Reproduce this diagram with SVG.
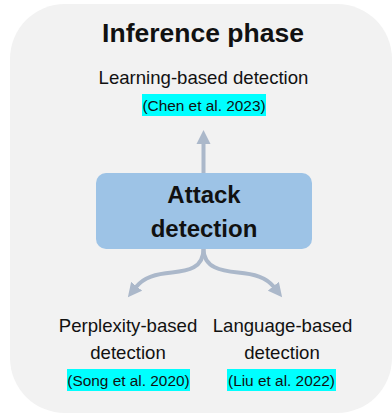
<svg xmlns="http://www.w3.org/2000/svg" width="392" height="414" viewBox="0 0 392 414">
<defs>
<style>
.t{font-family:"Liberation Sans",Arial,sans-serif;fill:#111;text-anchor:middle}
.b{font-weight:bold}
.lbl{font-size:18.6px}
.cit{font-size:15.4px}
.hl{fill:#00ffff}
.conn{fill:none;stroke:#abb8ca;stroke-width:4}
</style>
<marker id="ah" markerUnits="userSpaceOnUse" markerWidth="15" markerHeight="15" refX="1" refY="7" orient="auto" viewBox="0 0 15 14">
<path d="M0,0 L14,7 L0,14 z" fill="#abb8ca"/>
</marker>
</defs>
<g id="panel">
<rect x="10" y="4" width="382" height="409" rx="55" ry="55" fill="#f2f2f2"/>
<text class="t b" x="203" y="42" font-size="26.5">Inference phase</text>
</g>
<g id="connectors">
<path class="conn" d="M203.5,173 L203.5,143" marker-end="url(#ah)"/>
<path class="conn" d="M203.5,249 C203.5,268 188,271 172,272.5 C156,274 144,277 136,287" marker-end="url(#ah)"/>
<path class="conn" d="M203.5,249 C203.5,268 222,271 238,272.5 C254,274 266,277 274,287" marker-end="url(#ah)"/>
</g>
<g id="attack-detection">
<rect x="96" y="173" width="216" height="76" rx="10" ry="10" fill="#9dc3e6"/>
<text class="t b" x="204" y="203" font-size="24">Attack</text>
<text class="t b" x="204" y="237" font-size="24">detection</text>
</g>
<g id="learning-based">
<text class="t lbl" x="203.5" y="84">Learning-based detection</text>
<rect class="hl" x="142" y="94" width="124" height="22"/>
<text class="t cit" x="204" y="110.5">(Chen et al. 2023)</text>
</g>
<g id="perplexity-based">
<text class="t lbl" x="128" y="332">Perplexity-based</text>
<text class="t lbl" x="128" y="359">detection</text>
<rect class="hl" x="67" y="369" width="123" height="22"/>
<text class="t cit" x="128.5" y="385.5">(Song et al. 2020)</text>
</g>
<g id="language-based">
<text class="t lbl" x="282.5" y="332">Language-based</text>
<text class="t lbl" x="282" y="359">detection</text>
<rect class="hl" x="227" y="369" width="109" height="22"/>
<text class="t cit" x="281.5" y="385.5">(Liu et al. 2022)</text>
</g>
</svg>
